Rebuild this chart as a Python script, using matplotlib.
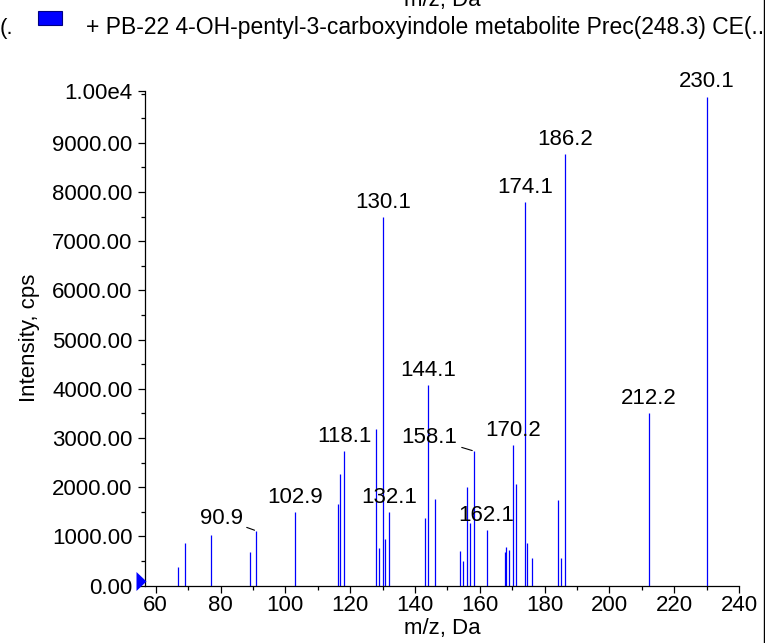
import matplotlib
matplotlib.use("Agg")
import matplotlib.pyplot as plt
from matplotlib.patches import Rectangle
from matplotlib.lines import Line2D
from matplotlib.ticker import FixedLocator, MultipleLocator

plt.rcParams['font.family'] = ['Liberation Sans', 'DejaVu Sans']

mz = [67.0, 68.9, 77.0, 89.0, 90.9, 102.9, 116.2, 117.0, 118.1, 128.1, 129.0,
      130.1, 130.8, 132.1, 143.0, 144.1, 146.1, 154.0, 154.9, 156.1, 157.1,
      158.1, 162.1, 167.9, 168.2, 169.1, 170.2, 171.1, 174.1, 174.6, 176.0,
      184.0, 185.1, 186.2, 212.2, 230.1]
intensity = [386, 874, 1024, 685, 1118, 1498, 1660, 2270, 2738, 3185, 760,
             7488, 949, 1492, 1370, 4079, 1769, 705, 508, 2012, 1281,
             2738, 1132, 679, 780, 726, 2853, 2061, 7793, 868, 557,
             1736, 557, 8774, 3510, 9940]

labeled = ["90.9", "102.9", "118.1", "130.1", "132.1", "144.1", "158.1",
           "162.1", "170.2", "174.1", "186.2", "212.2", "230.1"]
leader_offsets = {"90.9": (-9.5, 9.0), "158.1": (-11.5, 9.5)}

y_ticks = [0, 1000, 2000, 3000, 4000, 5000, 6000, 7000, 8000, 9000, 10060]
y_tick_labels = ["0.00", "1000.00", "2000.00", "3000.00", "4000.00", "5000.00",
                 "6000.00", "7000.00", "8000.00", "9000.00", "1.00e4"]
x_ticks = [60, 80, 100, 120, 140, 160, 180, 200, 220, 240]

FS = 16
BLUE = "#0000ff"

fig = plt.figure(figsize=(7.65, 6.43), dpi=100)
W, H = 765, 643
ax = fig.add_axes([145 / W, 1 - 585.7 / H, (739 - 145) / W, (585.7 - 90.7) / H])

ax.vlines(mz, 0, intensity, colors=BLUE, linewidth=0.9)

for m, v in zip(mz, intensity):
    lab = f"{m:.1f}"
    if lab not in labeled:
        continue
    if lab in leader_offsets:
        dx, dy = leader_offsets[lab]
        ax.annotate(lab, xy=(m, v), xytext=(dx, dy), textcoords="offset points",
                    ha="right", va="center", fontsize=FS,
                    arrowprops=dict(arrowstyle="-", color="black", lw=0.8,
                                    shrinkA=1, shrinkB=1))
    else:
        ax.annotate(lab, xy=(m, v), xytext=(0, 3), textcoords="offset points",
                    ha="center", va="bottom", fontsize=FS)

ax.set_xlim(56.7, 240)
ax.set_ylim(0, 10060)
ax.xaxis.set_major_locator(FixedLocator(x_ticks))
ax.xaxis.set_minor_locator(MultipleLocator(10))
ax.yaxis.set_major_locator(FixedLocator(y_ticks))
ax.set_yticklabels(y_tick_labels)
ax.yaxis.set_minor_locator(MultipleLocator(500))
ax.tick_params(axis="both", which="major", labelsize=FS, length=5, width=0.9,
               direction="out")
ax.tick_params(axis="x", which="major", pad=2)
ax.tick_params(axis="y", which="major", pad=4)
ax.tick_params(axis="both", which="minor", length=3, width=0.9, direction="out")
for s in ["top", "right"]:
    ax.spines[s].set_visible(False)
for s in ["left", "bottom"]:
    ax.spines[s].set_linewidth(0.9)

ax.set_xlabel("m/z, Da", fontsize=FS, labelpad=1)
ax.set_ylabel("Intensity, cps", fontsize=FS, labelpad=9)

# marker at origin (apex touching the y axis)
ax.plot([56.9], [96], marker=[(-1, -0.95), (0, 0), (-1, 0.95)], markersize=14.4,
        color=BLUE, clip_on=False, markeredgewidth=0, zorder=5)

# header (from previous panel)
fig.text(442 / W, 1 - 6 / H, "m/z, Da", ha="center", va="baseline", fontsize=FS)
fig.text(0, 1 - 34 / H, "(.", ha="left", va="baseline", fontsize=FS)
fig.patches.append(Rectangle((38 / W, 1 - 25 / H), 24 / W, 14 / H,
                             transform=fig.transFigure, facecolor=BLUE,
                             edgecolor="#000080", linewidth=0.8))
fig.text(86 / W, 1 - 34 / H,
         "+ PB-22 4-OH-pentyl-3-carboxyindole metabolite Prec(248.3) CE(..",
         ha="left", va="baseline", fontsize=16.5)
fig.lines.append(Line2D([763.5 / W, 763.5 / W], [0, 1], transform=fig.transFigure,
                        color="black", linewidth=1.0))

fig.savefig("out.png", dpi=100)
